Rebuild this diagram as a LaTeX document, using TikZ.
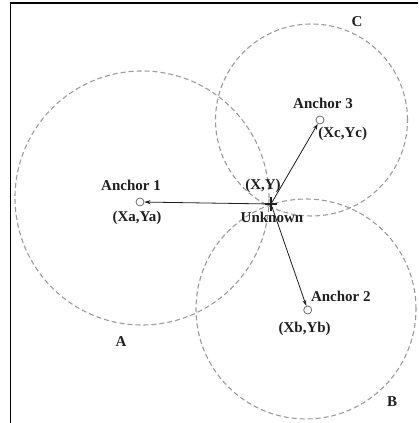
\documentclass[tikz,border=0pt]{standalone}
\usepackage{fontspec}
\setmainfont{Liberation Serif}
\usepackage{tikz}
\usetikzlibrary{arrows.meta, positioning}
\definecolor{cRing}{RGB}{155,155,155}
\definecolor{cInk}{RGB}{30,30,30}
\tikzset{
	rng/.style={draw=cRing, dash pattern=on 5pt off 3pt, line width=1.1pt},
	anc/.style={circle, draw=cInk!65, fill=white, line width=0.8pt, minimum size=8pt, inner sep=0pt},
	lbl/.style={inner sep=0pt, text=cInk, font=\fontsize{15}{17}\selectfont\bfseries},
	sig/.style={-{Stealth[length=6pt, width=4pt]}, draw=cInk, line width=0.8pt},
	% bold plus marking the unknown position
	mark plus/.style={draw=cInk, line width=2pt},
}

\begin{document}
\begin{tikzpicture}[x=1pt, y=1pt]
	\useasboundingbox (0,0) rectangle (418,423);
	\draw[line width=1.6pt] (10.3,0) -- (10.3,419.7) -- (418,419.7);
	% range circles
	\draw[rng] (142,225) circle[radius=127];
	\draw[rng] (306,114) circle[radius=110];
	\draw[rng] (311.5,303) circle[radius=96];
	\node[lbl] (la) at (121,81) {A};
	\node[lbl] (lb) at (392,21) {B};
	\node[lbl] (lc) at (357,401) {C};
	% anchors and unknown node
	\node[anc] (a1) at (140,221) {};
	\node[anc] (a2) at (307.7,113) {};
	\node[anc] (a3) at (320,303) {};
	\coordinate (u) at (271,219);
	\node[lbl, above=7pt of a1, xshift=-9pt] (t1) {Anchor 1};
	\node[lbl, below=4pt of a1, xshift=-3pt] (c1) {(Xa,Ya)};
	\node[lbl, above right=5pt and 0pt of a2] (t2) {Anchor 2};
	\node[lbl, below=7pt of a2, xshift=-3pt] (c2) {(Xb,Yb)};
	\node[lbl, above=7pt of a3, xshift=3pt] (t3) {Anchor 3};
	\node[lbl, below right=4pt and -5pt of a3] (c3) {(Xc,Yc)};
	\node[lbl, above=11pt of u, xshift=-8pt] (xy) {(X,Y)};
	\node[lbl, below=7.7pt of u, xshift=1pt] (unk) {Unknown};
	\draw[sig] (u) -- (a1);
	\draw[sig] (u) -- (a2);
	\draw[sig] (u) -- (a3);
	\draw[mark plus] (u) +(-6,0) -- +(6,0) (u) +(0,-7) -- +(0,7);
\end{tikzpicture}
\end{document}
